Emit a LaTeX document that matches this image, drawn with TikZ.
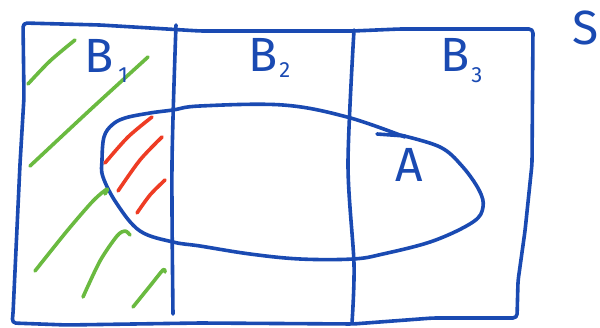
\documentclass[tikz,border=0pt]{standalone}
\usepackage{fontspec}
\setmainfont{Fira Sans}
\usepackage{xcolor}
\definecolor{penblue}{RGB}{26,74,178}
\definecolor{pengreen}{RGB}{106,186,64}
\definecolor{penred}{RGB}{238,60,36}
\newcommand{\subsz}{\fontsize{22}{22}\selectfont}

\begin{document}
\begin{tikzpicture}[
        x=1pt, y=-1pt,
        line cap=round, line join=round,
        font=\fontsize{48}{48}\selectfont,
        ink/.style={penblue, line width=3.6pt},
        hatchB/.style={pengreen, line width=3.6pt},
        hatchA/.style={penred, line width=3.6pt},
        lbl/.style={penblue, inner sep=0pt, anchor=base west}
    ]
    \useasboundingbox (0,0) rectangle (600,328);

    % Rahmen S
    \draw[ink, rounded corners=4pt] (23,23) -- (100,25) -- (200,31) -- (353,31)
        -- (400,29) -- (533,29) -- (532,164) -- (525,231) -- (518,281) -- (517,318)
        -- (433,318) -- (353,324) -- (200,323) -- (67,325) -- (12,323) -- (13,314)
        -- (20,164) -- (24,97) -- cycle;

    % Trennlinien
    \draw[ink] plot[smooth] coordinates {(176,25) (172,164) (173,314)};
    \draw[ink] plot[smooth] coordinates {(354,30) (348,164) (354,264) (352,323)};

    % Menge A
    \draw[ink] plot[smooth, tension=0.6] coordinates {(400,135) (440,147) (462,166)
        (479,190) (483,207) (473,222) (433,241) (383,254) (353,259) (300,259)
        (250,254) (200,246) (173,242) (140,231) (117,204) (103,177) (102,160)
        (104,137) (112,125) (125,118) (150,113) (173,110) (200,106) (283,105)
        (347,117) (405,137)};
    \draw[ink] (377,134) -- (405,136);

    % Schraffur B1
    \draw[hatchB] plot[smooth] coordinates {(28,84) (50,61) (75,40)};
    \draw[hatchB] plot[smooth] coordinates {(30,166) (90,110) (148,57)};
    \draw[hatchB] plot[smooth] coordinates {(35,271) (67,231) (93,201) (107,189) (105,194)};
    \draw[hatchB] plot[smooth] coordinates {(83,297) (100,261) (117,236) (125,231) (130,235)};
    \draw[hatchB] plot[smooth] coordinates {(133,307) (150,286) (163,270) (165,272)};

    % Schraffur A geschnitten B1
    \draw[hatchA] plot[smooth] coordinates {(105,163) (128,137) (152,117)};
    \draw[hatchA] plot[smooth] coordinates {(118,191) (140,160) (162,137)};
    \draw[hatchA] plot[smooth] coordinates {(137,213) (150,195) (165,180)};

    % Beschriftungen
    \node[lbl] (b1) at (84,73) {B\hspace{5pt}\raisebox{-10pt}{\subsz 1}};
    \node[lbl] (b2) at (248,72) {B\hspace{2pt}\raisebox{-6pt}{\subsz 2}};
    \node[lbl] (b3) at (440,72) {B\hspace{2pt}\raisebox{-11pt}{\subsz 3}};
    \node[lbl, anchor=base] (a) at (409,182) {A};
    \node[lbl] (s) at (572,45) {S};
\end{tikzpicture}
\end{document}
